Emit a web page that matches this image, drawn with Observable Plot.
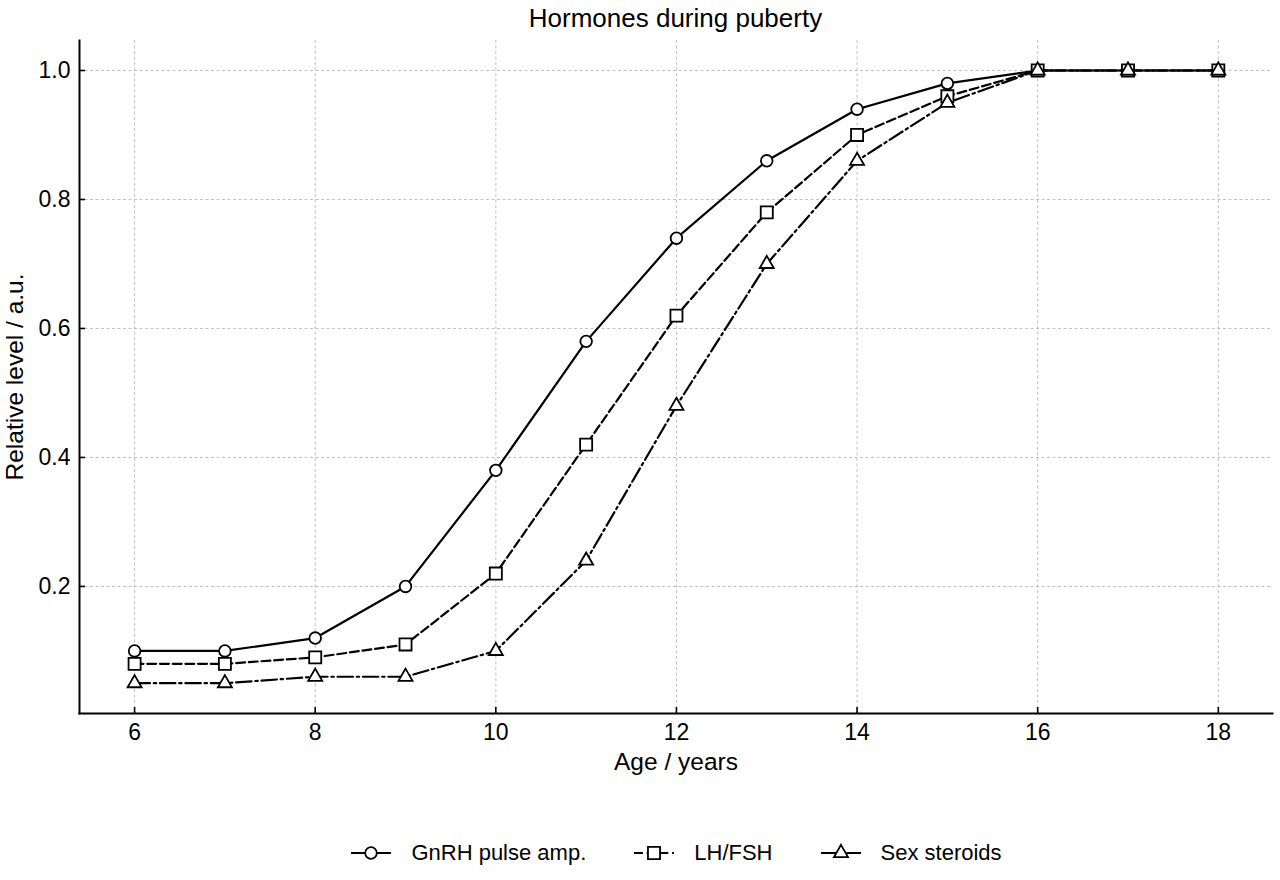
<!DOCTYPE html>
<html>
<head>
<meta charset="utf-8">
<script src="https://cdn.jsdelivr.net/npm/d3@7"></script>
<script src="https://cdn.jsdelivr.net/npm/@observablehq/plot@0.6"></script>
<style>
  html, body { margin: 0; padding: 0; background: #fff; }
  body { width: 1280px; height: 880px; position: relative; font-family: "Liberation Sans", Arial, sans-serif; overflow: hidden; }
  #title { position: absolute; left: 79px; width: 1193px; top: 2px; text-align: center; font-size: 26px; line-height: 32px; color: #000; }
  #chart { position: absolute; left: 0; top: 0; }
  #legend { position: absolute; left: 79px; width: 1193px; top: 839px; display: flex; justify-content: center; align-items: center; font-size: 22px; line-height: 28px; color: #000; }
  .item { display: flex; align-items: center; margin: 0 23px; }
  .item svg { margin-right: 18px; }
</style>
</head>
<body>
<div id="chart"></div>
<div id="title">Hormones during puberty</div>
<div id="legend"></div>
<script>
const ages = [6, 7, 8, 9, 10, 11, 12, 13, 14, 15, 16, 17, 18];
const gnrh = [0.10, 0.10, 0.12, 0.20, 0.38, 0.58, 0.74, 0.86, 0.94, 0.98, 1.0, 1.0, 1.0];
const lhfsh = [0.08, 0.08, 0.09, 0.11, 0.22, 0.42, 0.62, 0.78, 0.90, 0.96, 1.0, 1.0, 1.0];
const steroids = [0.05, 0.05, 0.06, 0.06, 0.10, 0.24, 0.48, 0.70, 0.86, 0.95, 1.0, 1.0, 1.0];
const seriesNames = ["GnRH pulse amp.", "LH/FSH", "Sex steroids"];
const xTicks = [6, 8, 10, 12, 14, 16, 18];
const yTicks = [0.2, 0.4, 0.6, 0.8, 1.0];

const styles = [
  {symbol: "circle", r: 5.8, dash: null},
  {symbol: "square", r: 6.8, dash: "8.9,3.8"},
  {symbol: "triangle", r: 5.2, dash: "15.4,3.8,2.4,3.8"}
];
const seriesValues = [gnrh, lhfsh, steroids];
const data = seriesValues.map((vals, i) => ages.map((a, j) => ({age: a, value: vals[j], series: seriesNames[i]})));

const marks = [
  Plot.gridX(xTicks, {stroke: "#b0b0b0", strokeOpacity: 1, strokeWidth: 0.8, strokeDasharray: "3,2.5"}),
  Plot.gridY(yTicks, {stroke: "#b0b0b0", strokeOpacity: 1, strokeWidth: 0.8, strokeDasharray: "3,2.5"}),
];
data.forEach((d, i) => {
  marks.push(Plot.line(d, {x: "age", y: "value", stroke: "#000", strokeWidth: 2.2, strokeDasharray: styles[i].dash}));
  marks.push(Plot.dot(d, {x: "age", y: "value", symbol: () => styles[i].symbol, r: styles[i].r, stroke: "#000", strokeWidth: 1.8, fill: "#fff"}));
});
marks.push(
  Plot.axisX(xTicks, {tickSize: -6, tickPadding: 16, fontSize: 23, strokeWidth: 1.6, label: null, tickFormat: d => String(d)}),
  Plot.axisY(yTicks, {tickSize: -6, tickPadding: 15, fontSize: 23, strokeWidth: 1.6, label: null, tickFormat: d => d.toFixed(1)}),
  Plot.frame({anchor: "left", stroke: "#000", strokeWidth: 2}),
  Plot.frame({anchor: "bottom", stroke: "#000", strokeWidth: 2}),
  Plot.text(["Age / years"], {frameAnchor: "bottom", dy: 49, fontSize: 24.5, lineAnchor: "middle", text: d => d}),
  Plot.text(["Relative level / a.u."], {frameAnchor: "left", dx: -64, rotate: -90, textAnchor: "middle", fontSize: 24.5, text: d => d})
);

const chart = Plot.plot({
  width: 1280,
  height: 880,
  marginLeft: 79,
  marginRight: 8,
  marginTop: 40,
  marginBottom: 167,
  style: {fontFamily: "'Liberation Sans', Arial, sans-serif", fontSize: "23px", color: "#000", background: "#fff", overflow: "visible"},
  x: {domain: [5.39, 18.6]},
  y: {domain: [0.003, 1.0465]},
  symbol: {type: "identity"},
  marks
});
document.getElementById("chart").appendChild(chart);

// legend
const legend = document.getElementById("legend");
seriesNames.forEach((name, i) => {
  const item = document.createElement("div");
  item.className = "item";
  const svg = d3.create("svg").attr("width", 44).attr("height", 20);
  svg.append("line").attr("x1", 2).attr("x2", 42).attr("y1", 10).attr("y2", 10)
    .attr("stroke", "#000").attr("stroke-width", 2.2).attr("stroke-dasharray", styles[i].dash);
  const sym = {circle: d3.symbolCircle, square: d3.symbolSquare, triangle: d3.symbolTriangle}[styles[i].symbol];
  svg.append("path").attr("d", d3.symbol(sym, Math.PI * styles[i].r * styles[i].r)())
    .attr("transform", "translate(22,10)").attr("fill", "#fff").attr("stroke", "#000").attr("stroke-width", 1.8);
  item.appendChild(svg.node());
  const label = document.createElement("span");
  label.textContent = name;
  item.appendChild(label);
  legend.appendChild(item);
});
</script>
</body>
</html>
